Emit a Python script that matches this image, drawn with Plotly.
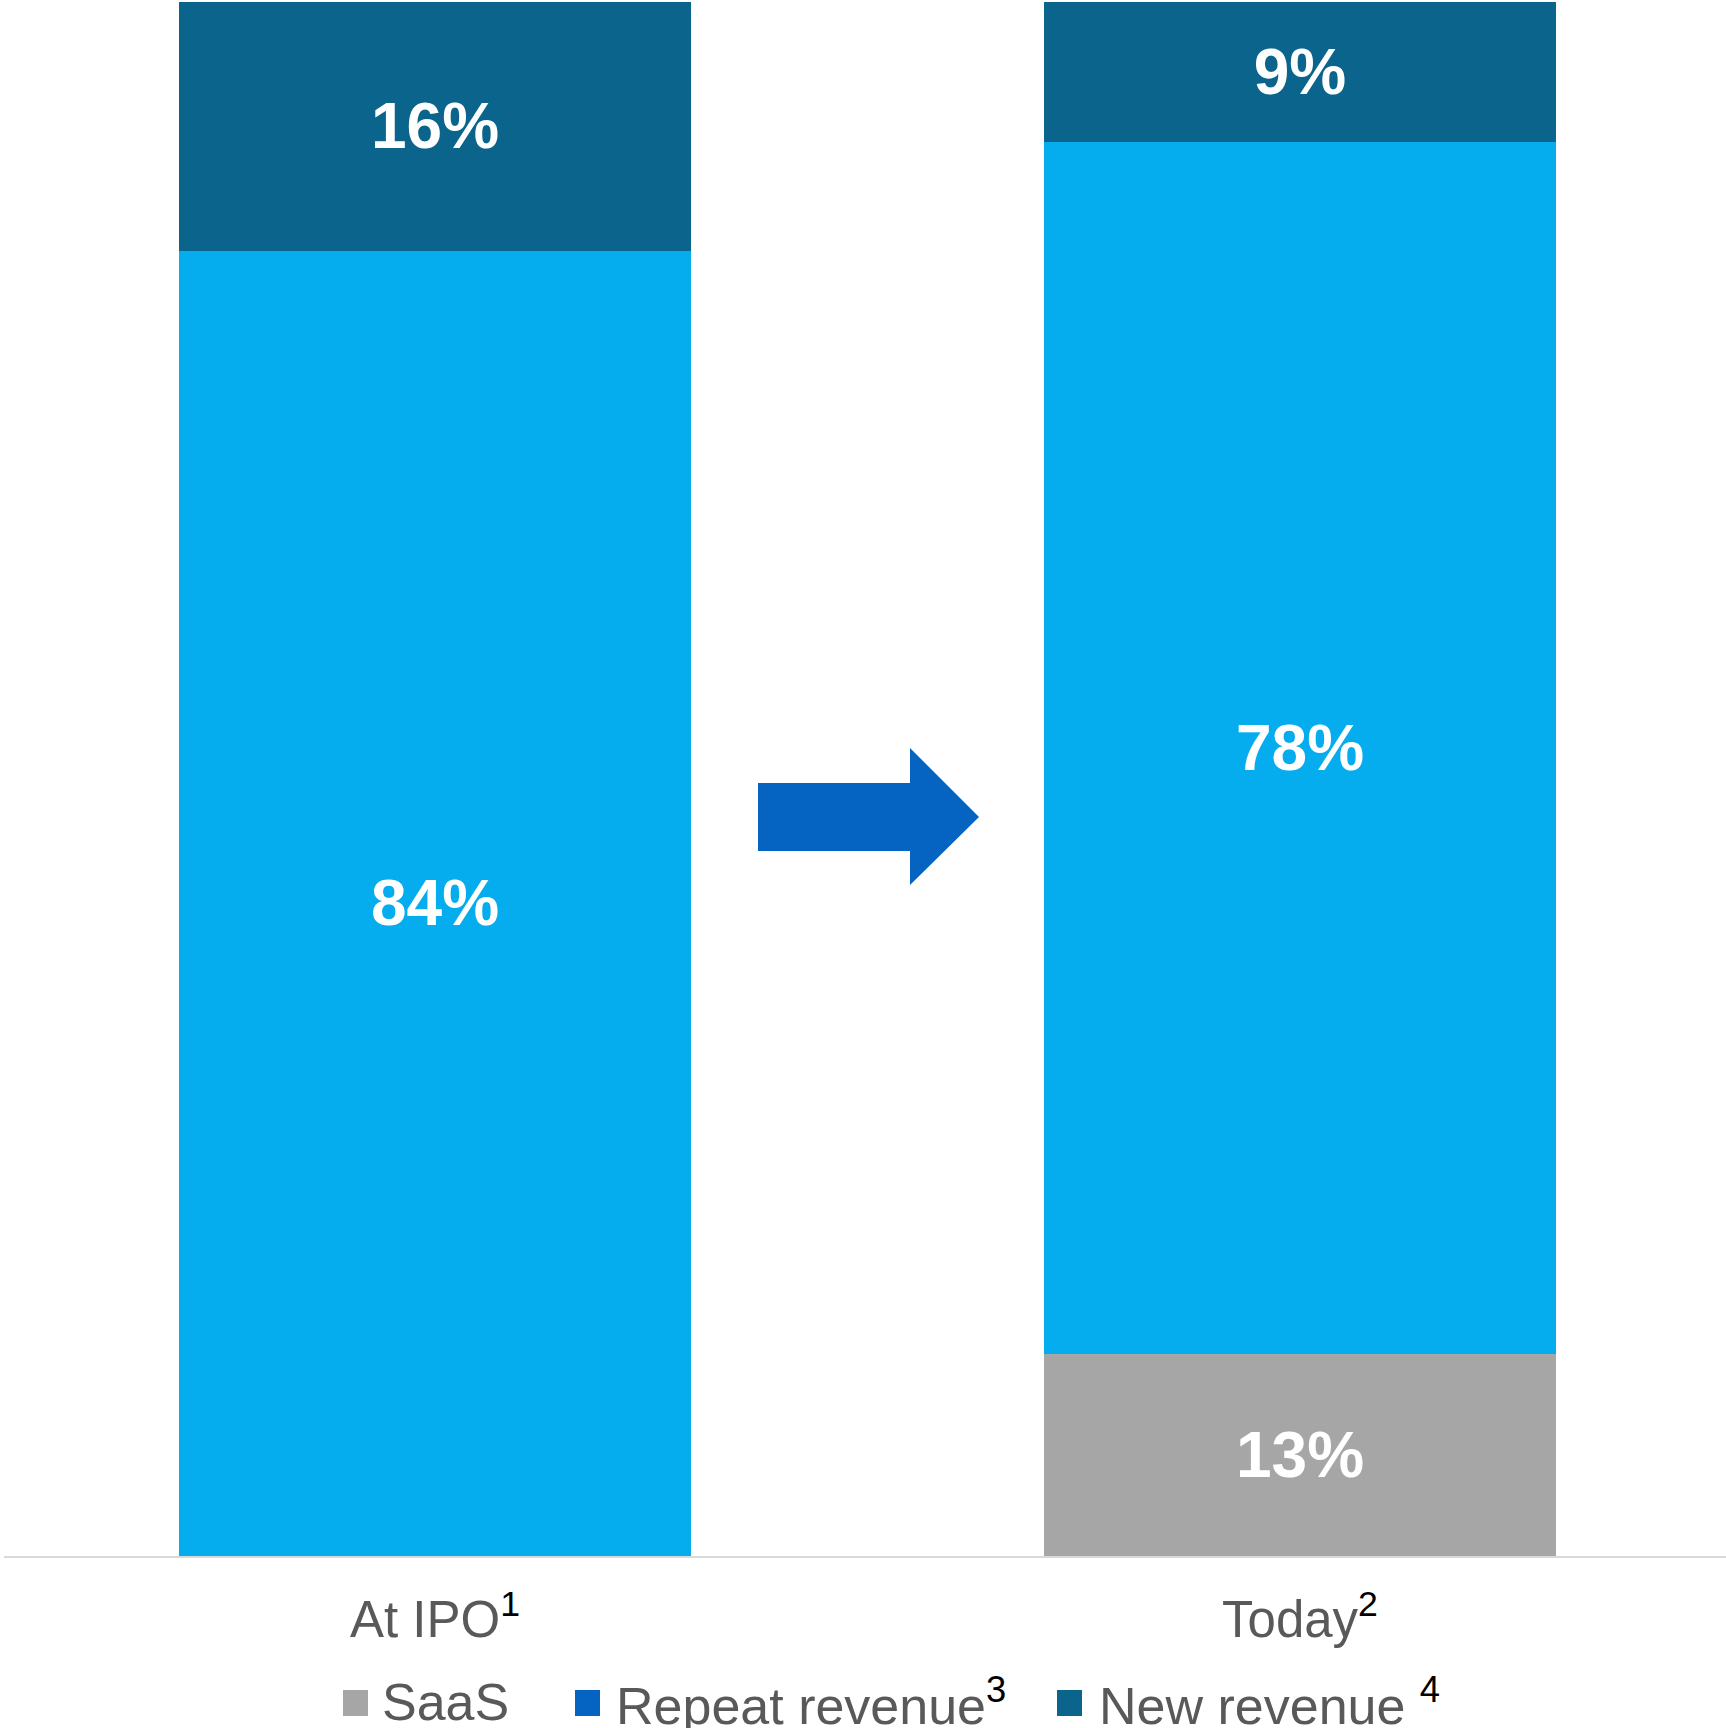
import plotly.graph_objects as go

# ---- data ----
categories = ["At IPO", "Today"]
category_labels = ["At IPO<sup><span style='color:#000000'>1</span></sup>",
                   "Today<sup><span style='color:#000000'>2</span></sup>"]
series_names = ["SaaS", "Repeat revenue", "New revenue"]
saas = [0, 13]
repeat_revenue = [84, 78]
new_revenue = [16, 9]
legend_labels = ["SaaS",
                 "Repeat revenue<sup><span style='color:#000000'>3</span></sup>",
                 "New revenue <sup><span style='color:#000000'>4</span></sup>"]

bar_colors = ["#A6A6A6", "#05ADEF", "#0B648B"]
legend_colors = ["#A6A6A6", "#0563C1", "#0B648B"]

W, H = 1726, 1728
ML, MR, MT, MB = 4, 0, 2, 172
PW, PH = W - ML - MR, H - MT - MB

def px_x(p):
    return (p - ML) / PW

def px_y(p):
    return (H - MB - p) / PH

font_family = "Arial, Liberation Sans, sans-serif"

fig = go.Figure()
for name, vals, col in zip(series_names, [saas, repeat_revenue, new_revenue], bar_colors):
    fig.add_trace(go.Bar(
        x=categories, y=vals, name=name,
        marker=dict(color=col, line=dict(width=0)),
        width=0.591,
        text=[f"{v}%" if v else "" for v in vals],
        textposition="inside", insidetextanchor="middle", textangle=0,
        constraintext="none",
        textfont=dict(family=font_family, size=64, color="#FFFFFF", weight="bold"),
        showlegend=False, hoverinfo="skip",
    ))

# arrow decoration (paper coordinates)
bx0, bx1, tipx = px_x(758), px_x(910), px_x(979)
by_top, by_bot = px_y(783), px_y(851)
hy_top, hy_bot, tipy = px_y(748), px_y(885), px_y(817)
path = (f"M {bx0},{by_top} L {bx1},{by_top} L {bx1},{hy_top} L {tipx},{tipy} "
        f"L {bx1},{hy_bot} L {bx1},{by_bot} L {bx0},{by_bot} Z")
shapes = [dict(type="path", xref="paper", yref="paper", path=path,
               fillcolor="#0563C1", line=dict(width=0), layer="above")]

# manual legend
annotations = []
swatch_x = [343, 575, 1057]
text_x = [380, 614, 1097]
sw_top, sw_bot = 1690, 1716
for lbl, col, sx, tx in zip(legend_labels, legend_colors, swatch_x, text_x):
    shapes.append(dict(type="rect", xref="paper", yref="paper",
                       x0=px_x(sx), x1=px_x(sx + 25), y0=px_y(sw_bot), y1=px_y(sw_top),
                       fillcolor=col, line=dict(width=0)))
    annotations.append(dict(text=lbl, xref="paper", yref="paper",
                            x=px_x(tx), y=px_y(1702), xanchor="left", yanchor="middle",
                            showarrow=False,
                            font=dict(family=font_family, size=52, color="#595959")))

x0 = (ML - 435) / 865
x1 = (W - MR - 435) / 865

fig.update_layout(
    width=W, height=H,
    margin=dict(l=ML, r=MR, t=MT, b=MB),
    barmode="stack",
    plot_bgcolor="#FFFFFF", paper_bgcolor="#FFFFFF",
    showlegend=False,
    shapes=shapes, annotations=annotations,
    xaxis=dict(type="category", range=[x0, x1],
               tickmode="array", tickvals=categories, ticktext=category_labels,
               showline=True, linecolor="#D9D9D9", linewidth=2,
               showgrid=False, zeroline=False, ticks="",
               ticklabelstandoff=18,
               tickfont=dict(family=font_family, size=51, color="#595959")),
    yaxis=dict(range=[0, 100], visible=False, showgrid=False, zeroline=False),
)

fig.write_html("out.html", config={"displayModeBar": False},
               post_script="document.body.style.margin='0';document.body.style.overflow='hidden';")
